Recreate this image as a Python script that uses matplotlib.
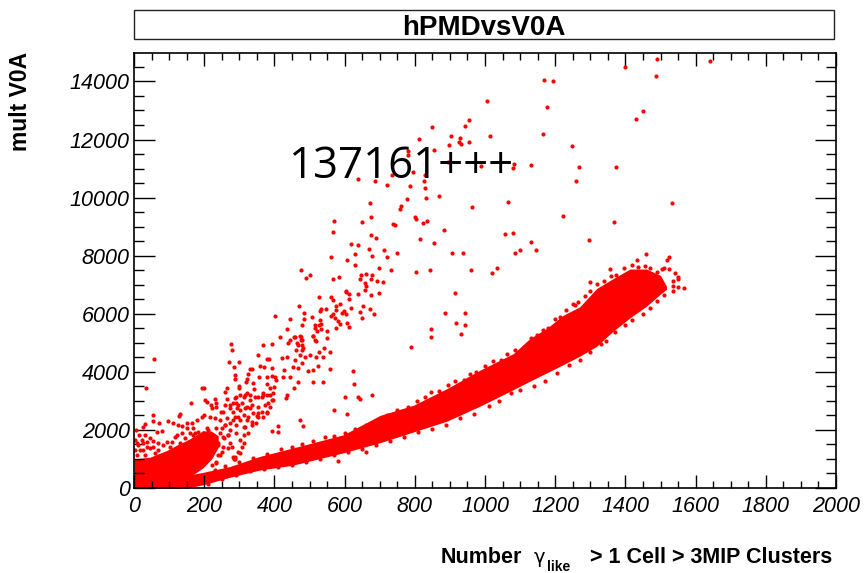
import numpy as np
import matplotlib
matplotlib.use('Agg')
import matplotlib.pyplot as plt
from matplotlib.patches import Rectangle
from matplotlib.ticker import MultipleLocator

FIG_W, FIG_H = 865, 573

# Solid part of the main band: lower and upper edge
band_x = [0, 100, 150, 197, 273, 359, 450, 596, 701, 796, 891, 986, 1081, 1128, 1175, 1223, 1270, 1318, 1365, 1413, 1460, 1500, 1517]
band_lo = [0, 0, 0, 110, 370, 620, 780, 1210, 1560, 1930, 2300, 2820, 3390, 3680, 3960, 4250, 4540, 4880, 5400, 5860, 6260, 6680, 6840]
band_hi = [300, 360, 430, 540, 740, 1090, 1370, 1830, 2500, 2850, 3420, 4060, 4630, 5150, 5490, 5950, 6240, 6870, 7210, 7540, 7540, 7320, 6950]

# Solid part of the low-x cloud
cloud_x = [0, 45, 93, 130, 150, 197, 221, 240]
cloud_lo = [0, 0, 0, 0, 300, 700, 1000, 1400]
cloud_hi = [1000, 1060, 1290, 1530, 1630, 1970, 1950, 1800]

# Points along the band edges
band_upper_pts = [
    (230, 620), (260, 760), (300, 880), (340, 1030), (380, 1180), (420, 1330), (450, 1420), (480, 1500),
    (510, 1620), (545, 1750), (570, 1800), (600, 1900), (630, 2040), (660, 2160), (690, 2300), (720, 2520),
    (750, 2680), (780, 2800), (805, 2980), (830, 3150), (845, 3320), (870, 3350), (895, 3530), (915, 3680),
    (940, 3720), (958, 3940), (975, 4000), (1000, 4190), (1022, 4380), (1045, 4420), (1062, 4600), (1085, 4750),
    (1110, 4850), (1130, 5160), (1148, 5280), (1165, 5430), (1180, 5500), (1200, 5820), (1215, 5900), (1230, 6130),
    (1250, 6330), (1265, 6420), (1285, 6600), (1300, 6800), (1320, 7020), (1340, 7120), (1358, 7300), (1372, 7340),
    (1395, 7560), (1420, 7680), (1435, 7620), (1455, 7650), (1470, 7560), (1490, 7430), (1510, 7560),
]
band_lower_pts = [
    (210, 130), (250, 310), (290, 440), (330, 590), (370, 660), (410, 720), (450, 780), (490, 900),
    (530, 1010), (570, 1130), (610, 1230), (650, 1350), (690, 1480), (730, 1630), (770, 1760), (810, 1930),
    (850, 2040), (890, 2180), (930, 2420), (970, 2560), (1010, 2820), (1040, 2990), (1075, 3260), (1100, 3380),
    (1140, 3520), (1170, 3700), (1205, 3960), (1240, 4250), (1270, 4420), (1300, 4680), (1330, 4950), (1344, 5072),
    (1370, 5360), (1400, 5600), (1420, 5780), (1450, 6000), (1470, 6190), (1490, 6450), (1510, 6650),
    (582, 930), (661, 1250),
]

# Band tip stragglers
tip_pts = [
    (1566, 6886), (1551, 6921), (1535, 6966), (1537, 6794), (1537, 7127), (1550, 7207), (1550, 7254), (1525, 7529),
    (1541, 7391), (1505, 7552), (1355, 7552), (1300, 7093), (1255, 6301), (1459, 8046), (1432, 7839), (1525, 7954),
    (1519, 7839),
]

# Low-x cloud, single dots
cloud_pts = [
    (55, 2513), (54, 2318), (98, 2318), (112, 2226), (131, 2548), (129, 2490), (72, 2226), (31, 2203),
    (25, 2112), (6, 1997), (65, 1939), (79, 1962), (15, 1825), (31, 1825), (46, 1710), (55, 1629),
    (67, 1538), (93, 1595), (107, 1595), (117, 1744), (8, 1538), (27, 1538), (36, 1423), (17, 1308),
    (46, 1365), (122, 1825), (126, 2169), (136, 2134), (150, 2226), (164, 2226), (150, 2054), (169, 2054),
    (160, 1882), (179, 2341), (193, 2456), (200, 2513), (174, 1882), (183, 1939), (188, 1767), (212, 1997),
    (217, 1882), (226, 1825), (212, 1652), (221, 1595), (202, 1480), (235, 2054), (250, 2054), (259, 2169),
    (273, 1997), (269, 1825), (255, 1710), (245, 1882), (240, 1537), (250, 1251), (240, 1136), (221, 791),
    (234, 883), (288, 1078), (285, 987), (302, 1193), (278, 1423), (269, 1365), (312, 1537), (302, 1652),
    (326, 1882), (292, 1882), (312, 2112), (283, 2341), (297, 2456), (321, 2341), (335, 2284), (349, 2226),
    (354, 2571), (331, 2743), (273, 2858), (235, 2800), (58, 4442), (33, 3432), (163, 2916),
    (3, 1652), (12, 1480), (22, 1652), (36, 1595), (3, 1308), (27, 1308), (55, 1423), (69, 1308),
    (84, 1480), (103, 1423), (112, 1308), (60, 1193), (8, 1136), (31, 1136), (131, 1538), (145, 1710),
    (136, 1882), (155, 1595), (169, 1825), (183, 1652), (197, 1882), (207, 2054), (174, 1538),
]

# Upper branch, x below 420
branch_low_pts = [
    (402, 5923), (276, 4947), (280, 4741), (270, 4339), (299, 4350), (285, 4167), (367, 4924), (393, 4959),
    (354, 4580), (380, 4431), (385, 4454), (330, 4098), (335, 4098), (359, 4201), (370, 4155), (394, 4132),
    (288, 3880), (288, 3742), (321, 3742), (326, 3914), (356, 3811), (380, 3811), (392, 3857), (319, 3650),
    (300, 3512), (299, 3432), (340, 3604), (378, 3581), (402, 3811), (405, 3719), (194, 3432), (200, 3432),
    (266, 3432), (259, 3317), (342, 3409), (399, 3467), (203, 3030), (207, 2950), (230, 3053), (234, 2938),
    (219, 2858), (221, 2743), (266, 3053), (259, 2858), (288, 3087), (292, 2916), (297, 2858), (312, 3145),
    (321, 3260), (330, 3030), (354, 3145), (368, 3202), (387, 3202), (392, 3030), (383, 2916), (354, 2800),
    (316, 2743), (273, 2743), (254, 2628), (248, 2628), (283, 2628), (302, 2686), (340, 2594), (378, 2628),
    (312, 2514), (326, 2456), (368, 2456), (351, 2479),
    (302, 3202), (316, 3202), (292, 3122), (283, 2916), (307, 2916), (331, 3202), (345, 3145), (364, 3145),
    (378, 3202), (397, 3260), (387, 3432), (368, 3260), (335, 2858), (321, 2800), (294, 2743), (288, 2456),
    (264, 2399), (245, 2341), (231, 2399), (217, 2456), (259, 2169), (273, 2226), (292, 2169), (302, 2341),
    (316, 2112), (335, 2169), (312, 1825), (269, 1825), (254, 1767), (273, 1537), (240, 1480), (254, 1423),
    (307, 1423), (297, 1250), (283, 1079), (288, 998), (245, 1136), (234, 872), (354, 2456), (378, 2571),
    (387, 2800), (373, 2858), (364, 2628), (397, 3030), (392, 1974), (409, 1917), (411, 2135),
]

# Upper branch and far outliers
branch_high_pts = [
    (1005, 13338), (954, 12672), (942, 12454), (849, 12420), (1015, 12121), (902, 12121), (928, 12064), (811, 12029),
    (898, 11823), (926, 11926), (932, 11857), (954, 11914), (854, 11650), (782, 11605), (782, 11467), (896, 11214),
    (1083, 11168), (1080, 11019), (1130, 11122), (988, 11099), (794, 10870), (830, 10790), (734, 10766), (639, 10640),
    (687, 10571), (826, 10571), (722, 10422), (786, 10410), (829, 10319), (832, 9997), (868, 10055), (778, 9940),
    (672, 9825), (1066, 9836), (761, 9722), (759, 9618), (962, 9676), (675, 9331), (801, 9343), (804, 9251),
    (569, 9182), (649, 9159), (737, 9102), (744, 9067), (824, 9136), (835, 9194), (884, 8872), (567, 8826),
    (1056, 8735), (1080, 8792), (674, 8700), (689, 8597), (814, 8585), (618, 8413), (639, 8379), (855, 8447),
    (1132, 8470), (670, 8229), (713, 8206), (749, 8103), (905, 8092), (936, 8092), (1099, 8206), (1086, 8103),
    (1145, 8183), (629, 8046), (677, 7988), (720, 7954), (560, 7942), (606, 7862), (631, 7690), (698, 7586),
    (476, 7495), (502, 7322), (489, 7242), (567, 7196), (584, 7265), (644, 7196), (647, 7322), (661, 7380),
    (679, 7345), (674, 7196), (731, 7495), (802, 7426), (842, 7495), (961, 7518), (1019, 7414), (1033, 7564),
    (693, 7127), (708, 7104), (657, 7047), (660, 6966), (657, 6829), (603, 6794), (604, 6748), (613, 6680),
    (638, 6668), (675, 6634), (698, 6725), (914, 6725), (528, 6588), (560, 6565), (568, 6461), (613, 6496),
    (471, 6278), (576, 6278), (588, 6335), (652, 6255), (672, 6174), (534, 6151), (531, 6094), (548, 6151),
    (575, 6140), (619, 6209), (483, 6037), (644, 6071), (599, 6094), (594, 6014), (605, 6002), (568, 6002),
    (562, 5911), (572, 5865), (684, 5979), (649, 5865), (887, 6025), (942, 6037), (507, 5876), (484, 5819),
    (444, 5807), (529, 5773), (581, 5750), (588, 5658), (607, 5669), (612, 5532), (479, 5600), (516, 5612),
    (528, 5612), (534, 5646), (515, 5520), (532, 5463), (576, 5497), (916, 5669), (944, 5612), (437, 5463),
    (520, 5405), (551, 5417), (847, 5474), (932, 5313), (846, 5210), (474, 5244), (511, 5244), (509, 5222),
    (455, 5199), (551, 5164), (417, 5199), (444, 5095), (440, 5003), (477, 5107), (515, 5084), (519, 5049),
    (465, 4980), (478, 4923), (790, 4866), (542, 4820), (482, 4808),
    (459, 5211), (476, 5211), (468, 4924), (480, 5097), (461, 4752), (478, 4752), (487, 4523), (501, 4580),
    (473, 4580), (459, 4408), (435, 4523), (421, 4465), (478, 4293), (454, 4178), (468, 4121), (497, 4041),
    (509, 4063), (525, 4201), (519, 4523), (528, 4695), (539, 4500), (557, 4672), (558, 4086), (511, 3662),
    (538, 3662), (468, 3662), (457, 3432), (435, 3202), (433, 3087), (424, 3834), (444, 3834), (428, 4063),
    (625, 4029), (627, 3581), (601, 3145), (639, 3145), (644, 3065), (677, 3202), (570, 2686), (608, 2536),
    (473, 2341), (481, 2135),
    (1490, 14773), (1640, 14693), (1398, 14486), (1488, 14199), (1169, 14038), (1195, 14004), (1176, 13108), (1450, 12982),
    (1430, 12707), (1164, 12201), (1247, 11765), (1268, 11042), (1372, 11042), (1260, 10583), (1534, 9825), (1221, 9377),
    (1368, 9171), (1297, 8551),
]

x_ticks = [0, 200, 400, 600, 800, 1000, 1200, 1400, 1600, 1800, 2000]
y_ticks = [0, 2000, 4000, 6000, 8000, 10000, 12000, 14000]


def place_text(fig, px, py, label, **kwargs):
    # px, py are pixels from the top left corner
    return fig.text(px / FIG_W, 1 - py / FIG_H, label, **kwargs)


def main():
    plt.rcParams['font.family'] = ['Liberation Sans', 'DejaVu Sans']

    fig = plt.figure(figsize=(FIG_W / 100, FIG_H / 100), dpi=100)
    ax = fig.add_axes([134 / FIG_W, 1 - 488 / FIG_H, 702 / FIG_W, 435 / FIG_H])

    ax.fill_between(band_x, band_lo, band_hi, color='#ff0000', lw=0)
    ax.fill_between(cloud_x, cloud_lo, cloud_hi, color='#ff0000', lw=0)

    for group in [band_upper_pts, band_lower_pts, tip_pts, cloud_pts, branch_low_pts, branch_high_pts]:
        pts = np.array(group)
        ax.plot(pts[:, 0], pts[:, 1], 'o', color='#ff0000', ms=3, mew=0)

    ax.set_xlim(0, 2000)
    ax.set_ylim(0, 14980)
    ax.set_xticks(x_ticks)
    ax.set_yticks(y_ticks)
    ax.set_xticklabels([str(t) for t in x_ticks], fontsize=15.5, style='italic')
    ax.set_yticklabels([str(t) for t in y_ticks], fontsize=15.5, style='italic')
    ax.xaxis.set_minor_locator(MultipleLocator(50))
    ax.yaxis.set_minor_locator(MultipleLocator(500))

    ax.tick_params(axis='x', which='major', direction='in', top=True, length=9.5, width=1, pad=6)
    ax.tick_params(axis='x', which='minor', direction='in', top=True, length=4.7, width=1)
    ax.tick_params(axis='y', which='major', direction='in', right=True, length=15, width=1, pad=3)
    ax.tick_params(axis='y', which='minor', direction='in', right=True, length=7.5, width=1)
    for sp in ax.spines.values():
        sp.set_linewidth(1.2)

    # Title box sits above the frame
    fig.add_artist(Rectangle((134 / FIG_W, 1 - 39 / FIG_H), 700 / FIG_W, 29 / FIG_H,
                             transform=fig.transFigure, fc='white', ec='#222222', lw=1))
    place_text(fig, 484, 28, 'hPMDvsV0A', fontsize=20, fontweight='bold', ha='center', va='center')

    # Axis titles, put together by hand because of the gamma subscript
    place_text(fig, 441, 563, 'Number', fontsize=15.5, fontweight='bold')
    place_text(fig, 534, 563, '\u03b3', fontsize=14, family='DejaVu Sans')
    place_text(fig, 547, 571, 'like', fontsize=10, fontweight='bold')
    place_text(fig, 832, 563, '> 1 Cell > 3MIP Clusters', fontsize=15.5, fontweight='bold', ha='right')
    place_text(fig, 21, 52, 'mult V0A', fontsize=16.5, fontweight='bold', rotation=90, ha='center', va='top')

    # Annotation pasted over the plot
    ax.text(441, 10675, '137161+++', fontsize=31.5, family='Open Sans', color='black', zorder=10)

    fig.savefig('out.png', dpi=100)


if __name__ == "__main__":
    main()
